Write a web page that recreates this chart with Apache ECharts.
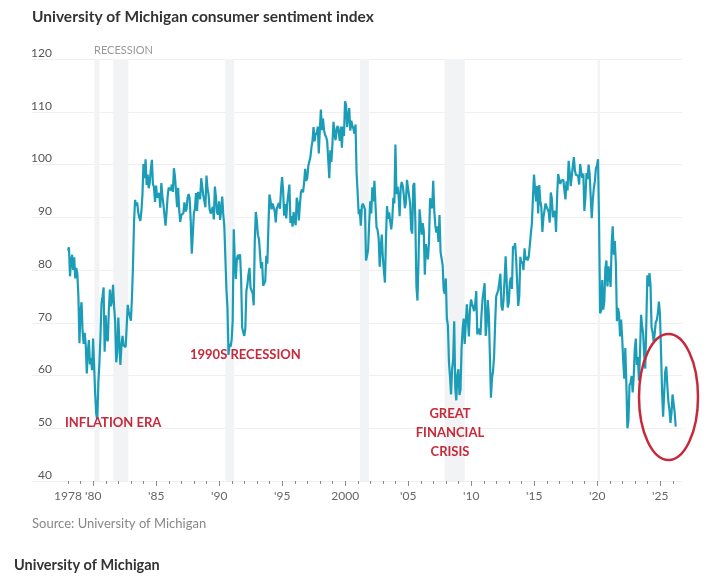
<!DOCTYPE html>
<html>
<head>
<meta charset="utf-8">
<script src="https://cdn.jsdelivr.net/npm/echarts@6/dist/echarts.min.js"></script>
<style>
  html, body { margin: 0; padding: 0; background: #fff; }
  #main { width: 707px; height: 580px; }
</style>
</head>
<body>
<div id="main"></div>
<script>
// monthly index values, one row per year, Jan 1978 .. Apr 2026
var firstYear = 1978;
var sent1978to1989 = [
  83.7, 84.3, 78.8, 81.6, 82.9, 80.0, 82.4, 78.4, 80.4, 79.3, 75.0, 66.1,
  72.1, 73.9, 68.4, 66.0, 68.1, 65.8, 60.4, 64.5, 66.7, 62.1, 63.3, 61.0,
  67.0, 66.9, 56.5, 52.7, 51.7, 58.7, 62.3, 67.3, 73.7, 75.0, 76.7, 64.5,
  71.4, 66.9, 66.5, 72.4, 76.3, 73.1, 74.1, 77.2, 73.1, 70.3, 62.5, 64.3,
  71.0, 66.5, 62.0, 65.5, 67.5, 65.7, 65.4, 65.4, 69.3, 73.4, 72.1, 71.9,
  70.4, 74.6, 80.8, 89.1, 93.3, 92.2, 92.8, 90.9, 89.9, 89.3, 91.1, 94.2,
  100.1, 97.4, 101.0, 96.1, 98.1, 95.5, 96.6, 99.1, 100.9, 96.3, 95.7, 92.9,
  96.0, 93.7, 93.7, 94.6, 91.8, 96.5, 94.0, 92.4, 92.1, 88.4, 90.9, 93.9,
  95.6, 95.9, 95.1, 96.2, 94.8, 99.3, 97.7, 94.9, 91.9, 95.6, 91.4, 89.1,
  90.4, 90.2, 90.8, 92.8, 91.1, 91.5, 93.7, 94.4, 93.6, 89.3, 83.1, 86.8,
  90.8, 91.6, 94.6, 91.2, 94.8, 94.7, 93.4, 97.4, 97.3, 94.1, 93.0, 91.9,
  97.9, 95.4, 94.3, 91.5, 90.7, 90.6, 92.0, 89.6, 95.8, 93.9, 90.9, 90.5
];
var sent1990to2001 = [
  93.0, 89.5, 91.3, 93.9, 90.6, 88.3, 88.2, 76.4, 72.8, 63.9, 66.0, 65.5,
  66.8, 70.4, 87.7, 81.8, 78.3, 82.1, 82.9, 82.0, 83.0, 78.3, 69.1, 68.2,
  67.5, 68.8, 76.0, 77.2, 79.2, 80.4, 76.6, 76.1, 75.6, 73.3, 85.3, 91.0,
  89.3, 86.6, 85.9, 85.6, 80.3, 81.5, 77.0, 77.3, 77.9, 82.7, 81.2, 88.2,
  94.3, 93.2, 91.5, 92.6, 92.8, 91.2, 89.0, 91.7, 91.5, 92.7, 91.6, 95.1,
  97.6, 95.1, 90.3, 92.5, 89.8, 92.7, 94.4, 96.2, 88.9, 90.2, 88.2, 91.0,
  89.3, 88.5, 93.7, 92.7, 89.4, 92.4, 94.7, 95.3, 94.7, 96.5, 99.2, 96.9,
  97.4, 99.7, 100.0, 101.4, 103.2, 104.5, 107.1, 104.4, 106.0, 105.6, 107.2, 102.1,
  106.6, 110.4, 106.5, 108.7, 106.5, 105.6, 105.2, 104.4, 100.9, 97.4, 102.7, 100.5,
  103.9, 108.1, 105.7, 104.6, 106.8, 107.3, 106.0, 104.5, 107.2, 103.2, 107.2, 105.4,
  112.0, 111.3, 107.1, 109.2, 110.7, 106.4, 108.3, 107.3, 106.8, 105.8, 107.6, 98.4,
  94.7, 90.6, 91.5, 88.4, 92.0, 92.6, 92.4, 91.5, 81.8, 82.7, 83.9, 88.8
];
var sent2002to2013 = [
  93.0, 90.7, 95.7, 93.0, 96.9, 92.4, 88.1, 87.6, 86.1, 80.6, 84.2, 86.7,
  82.4, 79.9, 77.6, 86.0, 92.1, 89.7, 90.9, 89.3, 87.7, 89.6, 93.7, 92.6,
  103.8, 94.4, 95.8, 94.2, 90.2, 95.6, 96.7, 95.9, 94.2, 91.7, 92.8, 97.1,
  95.5, 94.1, 92.6, 87.7, 86.9, 96.0, 96.5, 89.1, 76.9, 74.2, 81.6, 91.5,
  91.2, 86.7, 88.9, 87.4, 79.1, 84.9, 84.7, 82.0, 85.4, 93.6, 92.1, 91.7,
  96.9, 91.3, 88.4, 87.1, 88.3, 85.3, 90.4, 83.4, 83.4, 80.9, 76.1, 75.5,
  78.4, 70.8, 69.5, 62.6, 59.8, 56.4, 61.2, 63.0, 70.3, 57.6, 55.3, 60.1,
  61.2, 56.3, 57.3, 65.1, 68.7, 70.8, 66.0, 65.7, 73.5, 70.6, 67.4, 72.5,
  74.4, 73.6, 73.6, 72.2, 73.6, 76.0, 67.8, 68.9, 68.2, 67.7, 71.6, 74.5,
  74.2, 77.5, 67.5, 69.8, 74.3, 71.5, 63.7, 55.8, 59.5, 60.8, 63.7, 69.9,
  75.0, 75.3, 76.2, 76.4, 79.3, 73.2, 72.3, 74.3, 78.3, 82.6, 82.7, 72.9,
  73.8, 77.6, 78.6, 76.4, 84.5, 84.1, 85.1, 82.1, 77.5, 73.2, 75.1, 82.5
];
var sent2014to2026 = [
  81.2, 81.6, 80.0, 84.1, 81.9, 82.5, 81.8, 82.5, 84.6, 86.9, 88.8, 93.6,
  98.1, 95.4, 93.0, 95.9, 90.7, 96.1, 93.1, 91.9, 87.2, 90.0, 91.3, 92.6,
  92.0, 91.7, 91.0, 89.0, 94.7, 93.5, 90.0, 89.8, 91.2, 87.2, 93.8, 98.2,
  98.5, 96.3, 96.9, 97.0, 97.1, 95.0, 93.4, 96.8, 95.1, 100.7, 98.5, 95.9,
  95.7, 99.7, 101.4, 98.8, 98.0, 98.2, 97.9, 96.2, 100.1, 98.6, 97.5, 98.3,
  91.2, 93.8, 98.4, 97.2, 100.0, 98.2, 98.4, 89.8, 93.2, 95.5, 96.8, 99.3,
  99.8, 101.0, 89.1, 71.8, 72.3, 78.1, 72.5, 74.1, 80.4, 81.8, 76.9, 80.7,
  79.0, 76.8, 84.9, 88.3, 82.9, 85.5, 81.2, 70.3, 72.8, 71.7, 67.4, 70.6,
  67.2, 62.8, 59.4, 65.2, 58.4, 50.0, 51.5, 58.2, 58.6, 59.9, 56.8, 59.7,
  64.9, 67.0, 62.0, 63.5, 59.0, 64.2, 71.5, 69.4, 67.9, 63.8, 61.3, 69.7,
  79.0, 76.9, 79.4, 77.2, 69.1, 68.2, 66.4, 67.9, 70.1, 70.5, 71.8, 74.0,
  71.7, 64.7, 57.0, 52.2, 52.2, 60.7, 61.7, 58.2, 55.1, 53.6, 51.0, 52.9,
  56.4, 56.6, 53.0, 50.3
];

// recession bands (decimal years)
var recStart = [1980.1, 1981.6, 1990.5, 2001.2, 2007.9, 2020.05];
var recEnd   = [1980.5, 1982.8, 1991.2, 2001.9, 2009.5, 2020.25];

var yTicks = [40, 50, 60, 70, 80, 90, 100, 110, 120];

var values = [].concat(sent1978to1989, sent1990to2001, sent2002to2013, sent2014to2026);
var lineData = values.map(function (v, i) { return [firstYear + i / 12, v]; });
var bands = recStart.map(function (s, i) { return [{ xAxis: s }, { xAxis: recEnd[i] }]; });

function yearLabel(v) {
  if (v === 1978 || v === 2000) return String(v);
  if (v % 5 === 0) return "'" + String(v).slice(2);
  return '';
}

var font = 'Lato, "Open Sans", sans-serif';
var red = '#c62a3a';

var chart = echarts.init(document.getElementById('main'));
chart.setOption({
  animation: false,
  textStyle: { fontFamily: font },
  grid: [
    { left: 32, right: 25, top: 59, height: 422 },
    { left: 68, right: 34.2, top: 59, height: 422 },
    { left: 93.2, right: 46.8, top: 59, height: 422 }
  ],
  xAxis: [
    {
      gridIndex: 0, type: 'value', min: 1975.15, max: 2026.75,
      axisLine: { show: false }, axisTick: { show: false },
      axisLabel: { show: false }, splitLine: { show: false }
    },
    {
      gridIndex: 1, type: 'value', min: 1978, max: 2026, interval: 1,
      axisLine: { show: false },
      axisTick: { show: true, length: 3, lineStyle: { color: '#8a8a8a', width: 1 } },
      splitLine: { show: false },
      axisLabel: {
        show: true, margin: 9, color: '#666', fontSize: 12,
        fontFamily: font, formatter: yearLabel
      }
    },
    {
      gridIndex: 2, type: 'value', min: 1980, max: 2025, interval: 5,
      axisLine: { show: false },
      axisTick: { show: true, length: 5, lineStyle: { color: '#8a8a8a', width: 1 } },
      axisLabel: { show: false }, splitLine: { show: false }
    }
  ],
  yAxis: [
    {
      gridIndex: 0, type: 'value', min: yTicks[0], max: yTicks[yTicks.length - 1], interval: 10,
      axisLine: { show: false }, axisTick: { show: false },
      splitLine: { lineStyle: { color: '#efefef', width: 1 } },
      axisLabel: {
        inside: true, margin: 20, align: 'right', verticalAlign: 'bottom',
        color: '#555', fontSize: 12, fontFamily: font
      }
    },
    { gridIndex: 1, type: 'value', min: 0, max: 1, show: false },
    { gridIndex: 2, type: 'value', min: 0, max: 1, show: false }
  ],
  series: [
    {
      type: 'line',
      xAxisIndex: 0, yAxisIndex: 0,
      data: lineData,
      showSymbol: false,
      lineStyle: { color: '#1c9db7', width: 2.2 },
      z: 3,
      markArea: {
        silent: true,
        itemStyle: { color: '#f1f3f5' },
        data: bands
      }
    }
  ],
  graphic: [
    { type: 'text', left: 32, top: 9, z: 100,
      style: { text: 'University of Michigan consumer sentiment index', fill: '#333',
               font: 'bold 15.5px ' + font } },
    { type: 'text', left: 94, top: 45, z: 100,
      style: { text: 'RECESSION', fill: '#999', font: '11px ' + font } },
    { type: 'text', left: 65, top: 416, z: 100,
      style: { text: 'INFLATION ERA', fill: red, font: 'bold 13px ' + font } },
    { type: 'text', left: 190, top: 348, z: 100,
      style: { text: '1990S RECESSION', fill: red, font: 'bold 13px ' + font } },
    { type: 'text', x: 450, y: 404, z: 100,
      style: { text: 'GREAT\nFINANCIAL\nCRISIS', fill: red, align: 'center',
               lineHeight: 19, font: 'bold 13px ' + font } },
    { type: 'ellipse', shape: { cx: 668.5, cy: 397, rx: 29.5, ry: 63 }, z: 100,
      style: { fill: 'none', stroke: red, lineWidth: 2.5 } },
    { type: 'text', left: 32, top: 517, z: 100,
      style: { text: 'Source: University of Michigan', fill: '#888', font: '13px ' + font } },
    { type: 'text', left: 14, top: 558, z: 100,
      style: { text: 'University of Michigan', fill: '#333', font: 'bold 14.5px ' + font } }
  ]
});
</script>
</body>
</html>
